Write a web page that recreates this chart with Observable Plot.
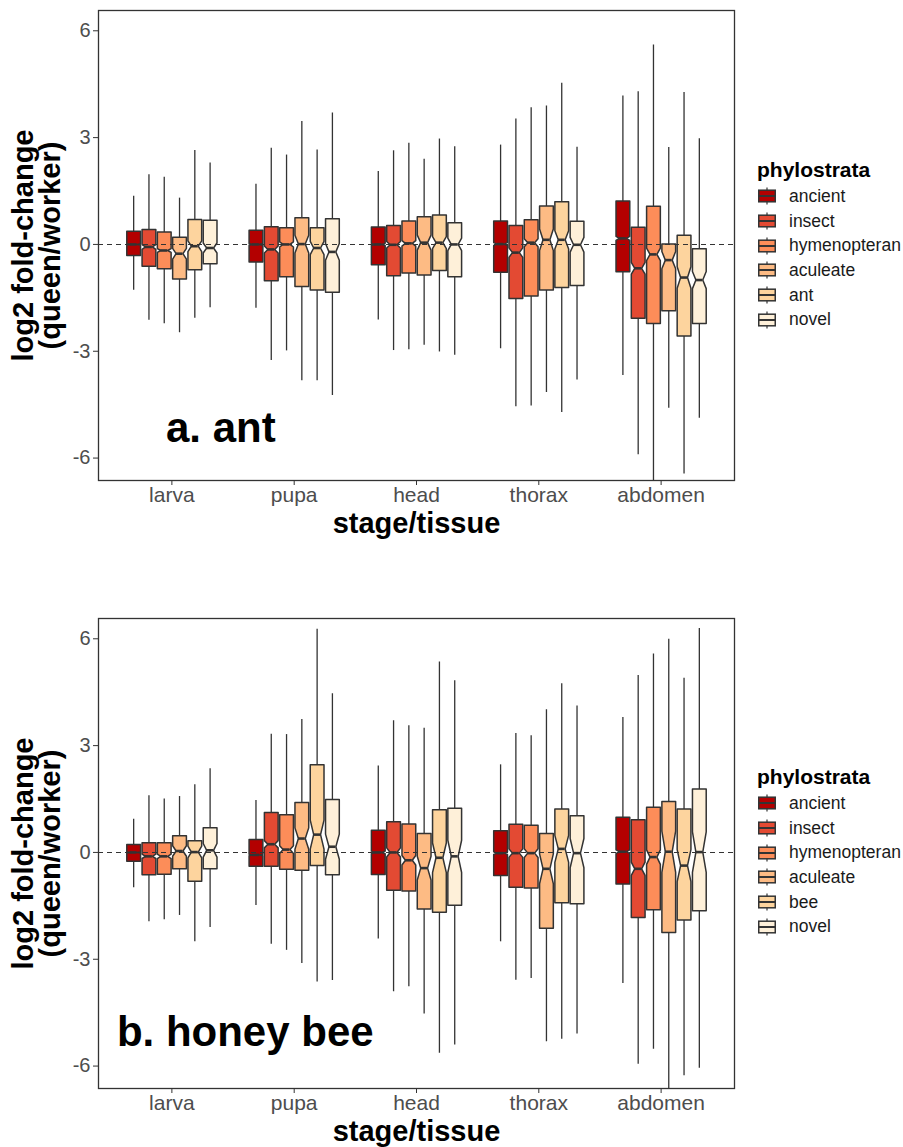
<!DOCTYPE html>
<html>
<head>
<meta charset="utf-8">
<script src="https://cdn.jsdelivr.net/npm/d3@7"></script>
<script src="https://cdn.jsdelivr.net/npm/@observablehq/plot@0.6"></script>
<style>
  html, body { margin: 0; padding: 0; background: #fff; }
  #wrap { position: relative; width: 903px; height: 1147px; font-family: "Liberation Sans", Arial, sans-serif; }
  .panel { position: absolute; left: 0; }
  .legend { position: absolute; left: 757px; font-family: "Liberation Sans", Arial, sans-serif; }
  .legend .ttl { font-weight: bold; font-size: 21px; height: 28px; line-height: 28px; color: #000; }
  .legend .row { display: flex; align-items: center; height: 24.7px; }
  .legend .row:first-of-type { margin-top: 2.7px; }
  .legend .lab { font-size: 17.5px; margin-left: 13px; color: #1a1a1a; }
  .legend svg { margin-left: 1px; }
</style>
</head>
<body>
<div id="wrap"></div>
<script>
// ---------- data ----------
const stages = ["larva", "pupa", "head", "thorax", "abdomen"];
const antStrata = ["ancient", "insect", "hymenopteran", "aculeate", "ant", "novel"];
const beeStrata = ["ancient", "insect", "hymenopteran", "aculeate", "bee", "novel"];
const strataColors = ["#B30000", "#E34A33", "#FC8D59", "#FDBB84", "#FDD49E", "#FEF0D9"];

// ant panel, stage-major (6 phylostrata per stage)
const antMin = [-1.29, -2.13, -2.23, -2.48, -2.07, -1.78,
                -1.79, -3.26, -2.99, -3.83, -3.83, -4.24,
                -2.12, -2.98, -2.96, -2.83, -3.02, -3.11,
                -2.93, -4.56, -4.54, -4.16, -4.72, -3.81,
                -3.68, -5.91, -7.20, -4.60, -6.45, -4.88];
const antQ1  = [-0.31, -0.61, -0.68, -0.97, -0.71, -0.54,
                -0.49, -1.02, -0.91, -1.18, -1.28, -1.34,
                -0.57, -0.88, -0.80, -0.86, -0.73, -0.91,
                -0.78, -1.52, -1.45, -1.28, -1.21, -1.15,
                -0.77, -2.07, -2.22, -1.86, -2.57, -2.22];
const antMed = [0.00, -0.07, -0.17, -0.26, -0.05, -0.10,
                0.00, -0.14, 0.00, 0.01, -0.10, -0.21,
                0.00, -0.01, 0.03, 0.05, 0.05, 0.00,
                0.01, -0.23, 0.05, 0.13, 0.13, -0.01,
                0.17, -0.67, -0.28, -0.44, -0.93, -1.00];
const antQ3  = [0.37, 0.42, 0.35, 0.20, 0.70, 0.68,
                0.40, 0.50, 0.47, 0.75, 0.47, 0.72,
                0.49, 0.53, 0.66, 0.78, 0.83, 0.61,
                0.66, 0.53, 0.69, 1.08, 1.20, 0.65,
                1.22, 0.48, 1.07, 0.01, 0.26, -0.12];
const antMax = [1.35, 1.96, 1.89, 1.30, 2.64, 2.29,
                1.69, 2.70, 2.51, 3.45, 2.65, 3.69,
                2.05, 2.63, 2.84, 2.39, 2.96, 2.74,
                2.79, 3.52, 3.84, 3.89, 4.53, 2.73,
                4.17, 4.29, 5.60, 2.72, 4.27, 2.97];
const antN   = [3000, 600, 900, 150, 220, 190];

// honey bee panel
const beeMin = [-0.99, -1.95, -1.89, -1.77, -2.51, -2.11,
                -1.49, -2.58, -2.75, -3.12, -3.64, -3.60,
                -2.43, -3.91, -3.77, -4.54, -5.64, -5.41,
                -2.51, -3.59, -3.54, -5.32, -5.25, -5.10,
                -3.68, -5.95, -5.53, -7.20, -6.27, -6.06];
const beeQ1  = [-0.25, -0.63, -0.61, -0.46, -0.81, -0.46,
                -0.39, -0.39, -0.47, -0.50, -0.37, -0.63,
                -0.62, -1.06, -1.08, -1.59, -1.68, -1.48,
                -0.65, -0.98, -1.00, -2.13, -1.41, -1.44,
                -0.89, -1.83, -1.61, -2.25, -1.90, -1.64];
const beeMed = [0.00, -0.11, -0.11, 0.04, 0.01, 0.06,
                -0.07, 0.23, 0.08, 0.39, 0.50, 0.16,
                0.00, 0.00, -0.22, -0.44, -0.15, -0.11,
                -0.02, -0.02, -0.02, -0.46, 0.10, -0.02,
                0.02, -0.46, -0.13, 0.02, -0.37, 0.01];
const beeQ3  = [0.22, 0.27, 0.27, 0.47, 0.33, 0.69,
                0.36, 1.12, 1.06, 1.40, 2.46, 1.49,
                0.62, 0.86, 0.80, 0.53, 1.20, 1.24,
                0.61, 0.79, 0.76, 0.53, 1.22, 1.03,
                0.99, 0.92, 1.27, 1.43, 1.22, 1.78];
const beeMax = [0.93, 1.59, 1.50, 1.57, 1.90, 2.35,
                1.46, 3.32, 3.31, 3.73, 6.27, 4.46,
                2.43, 3.70, 3.56, 3.49, 5.35, 4.82,
                2.46, 3.34, 3.28, 4.01, 4.74, 4.11,
                3.79, 4.97, 5.57, 5.99, 4.89, 6.29];
const beeN   = [3000, 550, 500, 100, 120, 90];

const yTicks = [-6, -3, 0, 3, 6];

// ---------- drawing ----------
const FONT = '"Liberation Sans", Arial, sans-serif';
const dodge = 0.75 / 6;
const halfW = dodge * 0.9 / 2;

function buildPanel(cfg) {
  const rows = [];
  const poly = [];
  stages.forEach((st, s) => {
    cfg.strata.forEach((ph, p) => {
      const k = s * 6 + p;
      const cx = s + 1 + (p - 2.5) * dodge;
      const q1 = cfg.q1[k], q3 = cfg.q3[k], md = cfg.med[k];
      const notch = 1.58 * (q3 - q1) / Math.sqrt(cfg.n[p]);
      const nl = md - notch, nu = md + notch;
      const id = st + "-" + ph;
      rows.push({id, stage: st, phylo: ph, cx, lo: cfg.min[k], hi: cfg.max[k], med: md});
      const pts = [
        [cx - halfW, q3], [cx + halfW, q3], [cx + halfW, nu], [cx + halfW / 2, md],
        [cx + halfW, nl], [cx + halfW, q1], [cx - halfW, q1], [cx - halfW, nl],
        [cx - halfW / 2, md], [cx - halfW, nu]
      ];
      pts.forEach(([x, y]) => poly.push({id, phylo: ph, x, y}));
    });
  });

  return Plot.plot({
    width: 740,
    height: cfg.height,
    marginLeft: 98,
    marginRight: 6,
    marginTop: 10,
    marginBottom: cfg.marginBottom,
    style: {fontFamily: FONT, background: "#fff", overflow: "visible"},
    x: {domain: [0.4, 5.6], axis: null},
    y: {domain: [-6.63, 6.57], axis: null},
    color: {domain: cfg.strata, range: strataColors},
    marks: [
      Plot.ruleX(rows, {x: "cx", y1: "lo", y2: "hi", stroke: "#333", strokeWidth: 1.3, clip: true}),
      Plot.line(poly, {x: "x", y: "y", z: "id", fill: "phylo", stroke: "#333", strokeWidth: 1.5, curve: "linear-closed", clip: true}),
      Plot.ruleY(rows, {y: "med", x1: d => d.cx - halfW / 2, x2: d => d.cx + halfW / 2, stroke: "#333", strokeWidth: 2.6}),
      Plot.ruleY([0], {stroke: "#333", strokeWidth: 1.1, strokeDasharray: "5,4"}),
      Plot.frame({stroke: "#333", strokeWidth: 1.3}),
      Plot.axisY({ticks: yTicks, tickFormat: d => String(d), tickSize: 5, tickPadding: 3, fontSize: 20, stroke: "#333", fill: "#4d4d4d", label: null}),
      Plot.axisX({ticks: [1, 2, 3, 4, 5], tickFormat: d => stages[d - 1], tickSize: 5, tickPadding: 2, fontSize: 21, stroke: "#333", fill: "#4d4d4d", label: null}),
      Plot.text([cfg.label], {x: cfg.labelX, y: cfg.labelY, text: d => d, fontSize: 42, fontWeight: "bold", fill: "#000"}),
      Plot.text(["stage/tissue"], {frameAnchor: "bottom", dy: 52, text: d => d, fontSize: 29, fontWeight: "bold", fill: "#000"}),
      Plot.text(["log2 fold-change\n(queen/worker)"], {frameAnchor: "left", textAnchor: "middle", dx: -61, rotate: -90, lineHeight: 0.93, text: d => d, fontSize: 29, fontWeight: "bold", fill: "#000"})
    ]
  });
}

function legend(title, strata, top) {
  const div = document.createElement("div");
  div.className = "legend";
  div.style.top = top + "px";
  let html = `<div class="ttl">${title}</div>`;
  strata.forEach((s, i) => {
    html += `<div class="row"><svg width="18" height="18" viewBox="0 0 18 18">
      <line x1="9" x2="9" y1="0.5" y2="17.5" stroke="#333" stroke-width="1.2"/>
      <rect x="0.75" y="3.2" width="16.5" height="11.6" fill="${strataColors[i]}" stroke="#333" stroke-width="1.5"/>
      <line x1="0.75" x2="17.25" y1="9" y2="9" stroke="#333" stroke-width="2"/>
    </svg><span class="lab">${s}</span></div>`;
  });
  div.innerHTML = html;
  return div;
}

const wrap = document.getElementById("wrap");

const pa = buildPanel({strata: antStrata, min: antMin, q1: antQ1, med: antMed, q3: antQ3, max: antMax, n: antN,
  label: "a. ant", labelX: 1.4, labelY: -5.17, height: 608, marginBottom: 128});
pa.classList.add("panel"); pa.style.top = "0px";
wrap.appendChild(pa);

const pb = buildPanel({strata: beeStrata, min: beeMin, q1: beeQ1, med: beeMed, q3: beeQ3, max: beeMax, n: beeN,
  label: "b. honey bee", labelX: 1.6, labelY: -5.07, height: 539, marginBottom: 59});
pb.classList.add("panel"); pb.style.top = "608px";
wrap.appendChild(pb);

wrap.appendChild(legend("phylostrata", antStrata, 156));
wrap.appendChild(legend("phylostrata", beeStrata, 763));
</script>
</body>
</html>
